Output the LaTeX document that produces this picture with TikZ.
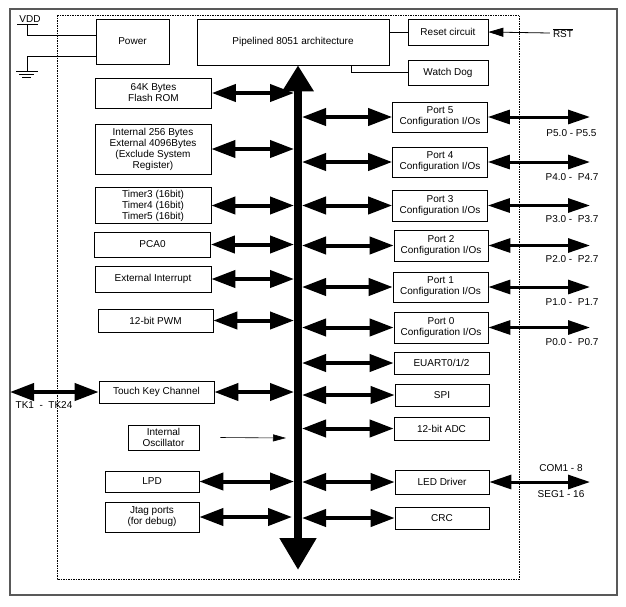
\documentclass[tikz,border=0pt]{standalone}
\usepackage{fontspec}
\setmainfont{Liberation Sans}
\usetikzlibrary{arrows.meta, positioning, calc}

\begin{document}
\begin{tikzpicture}[
  x=1pt, y=-1pt,
  font=\fontsize{10}{11}\selectfont,
  box/.style={rectangle, draw, line width=0.7pt, minimum width=116pt, minimum height=25pt, inner sep=2pt, align=center},
  portbox/.style={box, minimum width=95pt, minimum height=30pt},
  iobox/.style={box, minimum width=95pt, minimum height=22pt},
  biarrow/.style={<->, >={Triangle[length=24pt,width=17pt]}, line width=4pt},
  extarrow/.style={<->, >={Triangle[length=22pt,width=14pt]}, line width=3pt},
  bus/.style={line width=8pt, arrows={Triangle[length=32pt,width=35pt]-Triangle[length=26pt,width=30pt]}},
  rstarrow/.style={-{Triangle[length=15pt,width=9pt]}, line width=0.8pt},
  oscarrow/.style={-{Triangle[length=13pt,width=7pt]}, line width=0.6pt},
  lbl/.style={inner sep=0pt}
]
\useasboundingbox (0,0) rectangle (626,606);

% frames
\draw [gray!70!black, line width=1.2pt] (10,9) rectangle (617,595);
\draw [dash pattern=on 1.5pt off 1pt, line width=0.6pt] (57,15) rectangle (519,579);

% top row
\node (power) [box, minimum width=73pt, minimum height=45pt] at (132.5,41.5) {Power};
\node (cpu) [box, minimum width=192pt, minimum height=46pt] at (293,42) {Pipelined 8051 architecture};
\node (reset) [box, minimum width=80pt, minimum height=26pt] at (448,32) {Reset circuit};
\node (wdog) [box, minimum width=80pt, minimum height=25pt] at (448,72.5) {Watch Dog};

% supply
\coordinate (vdd) at (27,24);
\coordinate (gnd) at (27,71);
\node (vddlbl) [lbl] at (30,19) {VDD};
\draw [line width=0.7pt] ([xshift=-10pt]vdd) -- ([xshift=11pt]vdd);
\draw [line width=0.7pt] (vdd) |- ([yshift=6.5pt]power.west);
\draw [line width=0.7pt] ([yshift=-14.5pt]power.west) -| (gnd);
\draw [line width=0.7pt] ([xshift=-11pt]gnd) -- ([xshift=11pt]gnd);
\draw [line width=0.7pt] ([shift={(-8pt,-3pt)}]gnd) -- ([shift={(7pt,-3pt)}]gnd);
\draw [line width=0.7pt] ([shift={(-5pt,-6pt)}]gnd) -- ([shift={(4pt,-6pt)}]gnd);

% reset / watchdog
\node (rst) [inner sep=3pt] at (563,33) {$\overline{\hbox{RST}}$};
\draw [rstarrow] (rst.west) -- (reset.east);
\draw [line width=0.7pt] (reset.west) -- (reset.west -| cpu.east);
\draw [line width=0.7pt] ([xshift=58pt]cpu.south) |- (wdog.west);

% internal bus
\coordinate (busbot) at (298,570);
\coordinate (busL) at (294,0);
\coordinate (busR) at (302,0);
\coordinate (pinR) at (590,0);
\draw [bus] (busbot) -- (busbot |- cpu.south);

% left column
\node (flash) [box, minimum height=30pt] at (153.5,93) {64K Bytes\\Flash ROM};
\node (ram) [box, minimum height=50pt] at (153,149) {Internal 256 Bytes\\External 4096Bytes\\(Exclude System\\Register)};
\node (timer) [box, minimum height=33pt] at (153,205.5) {Timer3 (16bit)\\Timer4 (16bit)\\Timer5 (16bit)};
\node (pca) [box] at (152.5,244.5) {PCA0};
\node (extint) [box, minimum height=26pt] at (153,279) {External Interrupt};
\node (pwm) [box, minimum width=115pt, minimum height=23pt] at (155.5,320.5) {12-bit PWM};
\node (touch) [box, minimum width=115pt, minimum height=22pt] at (156.5,392) {Touch Key Channel};
\node (osc) [box, minimum width=71pt] at (163.5,437.5) {Internal\\Oscillator};
\node (lpd) [box, minimum width=94pt, minimum height=21pt] at (152,481.5) {LPD};
\node (jtag) [box, minimum width=94pt, minimum height=30pt] at (152,517) {Jtag ports\\(for debug)};

\draw [biarrow] (flash.east) -- (flash.east -| busL);
\draw [biarrow] (ram.east) -- (ram.east -| busL);
\draw [biarrow] (timer.east) -- (timer.east -| busL);
\draw [biarrow] (pca.east) -- (pca.east -| busL);
\draw [biarrow] (extint.east) -- (extint.east -| busL);
\draw [biarrow] (pwm.east) -- (pwm.east -| busL);
\draw [biarrow] (touch.east) -- (touch.east -| busL);
\draw [biarrow] (lpd.east) -- (lpd.east -| busL);
\draw [biarrow] (jtag.east) -- ([xshift=-2pt]jtag.east -| busL);
\coordinate (oscin) at (286,438);
\draw [oscarrow] ([xshift=21pt]osc.east) -- (oscin);

% touch key pins
\coordinate (tkpin) at (10,392);
\draw [biarrow] (tkpin) -- (touch.west);
\node (tklbl) [lbl] at (44,405) {TK1\ \ -\ \ TK24};

% ports
\node (port5) [portbox] at (440,117) {Port 5\\Configuration I/Os};
\node (port4) [portbox] at (440,162) {Port 4\\Configuration I/Os};
\node (port3) [portbox, minimum height=31pt] at (440,205.5) {Port 3\\Configuration I/Os};
\node (port2) [portbox, minimum width=94pt, minimum height=31pt] at (441,245.5) {Port 2\\Configuration I/Os};
\node (port1) [portbox] at (440.5,287) {Port 1\\Configuration I/Os};
\node (port0) [portbox, minimum width=94pt, minimum height=31pt] at (441,327.5) {Port 0\\Configuration I/Os};

\foreach \p in {port5, port4, port3, port2, port1, port0} {
  \draw [biarrow] (busR |- \p.west) -- (\p.west);
  \draw [extarrow] (\p.east) -- (\p.east -| pinR);
}

\node (p5lbl) [lbl] at (571.5,133) {P5.0 - P5.5};
\node (p4lbl) [lbl] at (572,177) {P4.0 -\ \ P4.7};
\node (p3lbl) [lbl] at (572,219) {P3.0 -\ \ P3.7};
\node (p2lbl) [lbl] at (572,259) {P2.0 -\ \ P2.7};
\node (p1lbl) [lbl] at (572,302) {P1.0 -\ \ P1.7};
\node (p0lbl) [lbl] at (572,342) {P0.0 -\ \ P0.7};

% peripherals
\node (euart) [iobox] at (441.5,363) {EUART0/1/2};
\node (spi) [iobox, minimum width=94pt] at (442,395) {SPI};
\node (adc) [iobox, minimum height=23pt] at (441.5,428.5) {12-bit ADC};
\node (led) [iobox, minimum width=94pt, minimum height=24pt] at (442,482) {LED Driver};
\node (crc) [iobox, minimum width=94pt] at (442,518) {CRC};

\foreach \p in {euart, spi, adc, led, crc} {
  \draw [biarrow] (busR |- \p.west) -- (\p.west);
}
\draw [extarrow] (led.east) -- (led.east -| pinR);
\node (comlbl) [lbl] at (561,468) {COM1 - 8};
\node (seglbl) [lbl] at (561,494) {SEG1 - 16};

\end{tikzpicture}
\end{document}
